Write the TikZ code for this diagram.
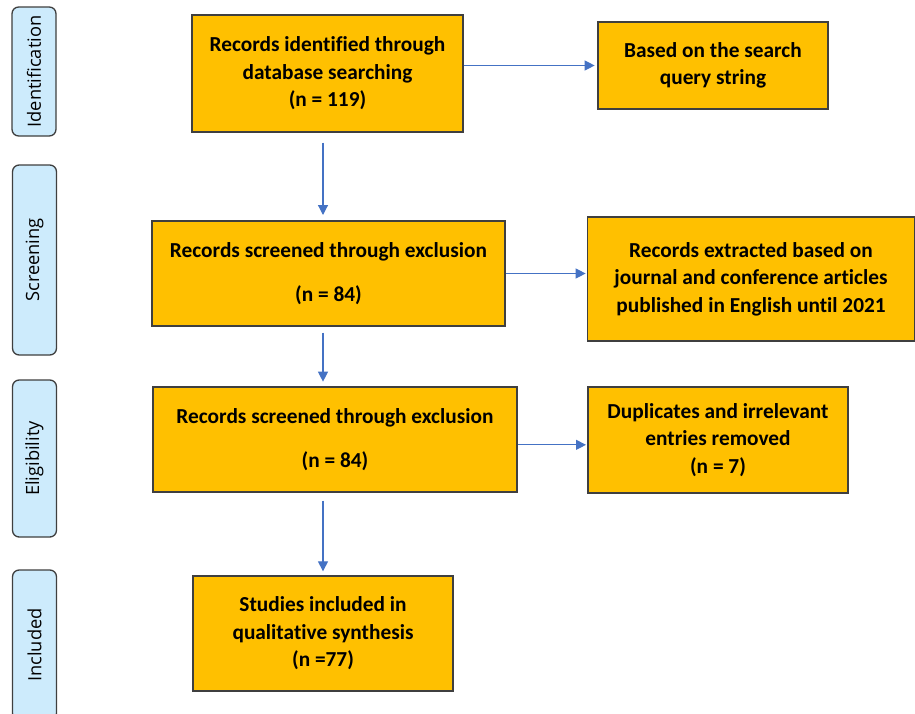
\documentclass[tikz,border=0pt]{standalone}
\usepackage{fontspec}
\setmainfont{Carlito}[Ligatures=NoCommon]
\newfontfamily\stagefont{Open Sans}
\usetikzlibrary{arrows.meta, positioning}
\tikzset{>={Triangle[length=7.5pt,width=7.5pt]}}

\definecolor{boxgold}{HTML}{FFC000}
\definecolor{stageblue}{HTML}{CDEBFC}
\definecolor{edgegray}{HTML}{3F3F3F}
\definecolor{flowblue}{HTML}{4472C4}

\begin{document}
\begin{tikzpicture}[x=0.75pt, y=-0.75pt,
  recbox/.style={draw=edgegray, fill=boxgold, line width=1pt, align=center,
    inner sep=0pt, font=\bfseries\fontsize{16}{20.6}\selectfont},
  stage/.style={draw=edgegray, fill=stageblue, line width=1pt, rounded corners=5pt,
    rotate=90, minimum height=33pt, inner sep=0pt,
    font=\stagefont\fontsize{13.7}{16}\selectfont},
  flow/.style={->, flowblue, line width=0.9pt}]

\clip (0,0) rectangle (915,714);
\useasboundingbox (0,0) rectangle (915,714);

% --- Stage labels ---
\node[stage, minimum width=96.75pt]  (ident) at (34,71.5)  {Identification};
\node[stage, minimum width=142.5pt]  (screen) at (34.5,260) {Screening};
\node[stage, minimum width=117.75pt] (elig) at (34.5,458.5) {Eligibility};
\node[stage, minimum width=112.5pt]  (incl) at (34.5,645)   {Included};

% --- Main column ---
\node[recbox, minimum width=203.25pt, minimum height=87.75pt] (found) at (327.5,73.5)
  {Records identified through\\database searching\\(n = 119)};
\node[recbox, minimum width=264.75pt, minimum height=78.75pt] (screened) at (328.5,273.5)
  {Records screened through exclusion\\[12.4pt](n = 84)};
\node[recbox, minimum width=273pt, minimum height=78.75pt] (eligible) at (335,439.5)
  {Records screened through exclusion\\[12.4pt](n = 84)};
\node[recbox, minimum width=195pt, minimum height=86.25pt] (included) at (323,633.5)
  {Studies included in\\qualitative synthesis\\(n =77)};

% --- Side boxes ---
\node[recbox, minimum width=172.5pt, minimum height=65.25pt] (query) at (713,65.5)
  {Based on the search\\query string};
\node[recbox, minimum width=245pt, minimum height=93pt] (extracted) at (751,279)
  {Records extracted based on\\journal and conference articles\\published in English until 2021};
\node[recbox, minimum width=195pt, minimum height=79.5pt] (removed) at (718,440)
  {Duplicates and irrelevant\\entries removed\\(n = 7)};

% --- Arrows ---
\coordinate (spine) at (323,0);
\draw[flow, shorten <=7.5pt, shorten >=4pt] (found.south -| spine) -- (screened.north -| spine);
\draw[flow, shorten <=4.5pt, shorten >=3.5pt] (screened.south -| spine) -- (eligible.north -| spine);
\draw[flow, shorten <=6pt, shorten >=3pt] (eligible.south -| spine) -- (included.north -| spine);

\draw[flow, shorten >=2pt] (found.east |- query.west) -- (query.west);
\draw[flow, shorten >=1pt] (screened.east) -- (screened.east -| extracted.west);
\draw[flow, shorten >=1pt] ([yshift=-4pt]eligible.east) -- ([yshift=-4pt]eligible.east -| removed.west);

\end{tikzpicture}
\end{document}
